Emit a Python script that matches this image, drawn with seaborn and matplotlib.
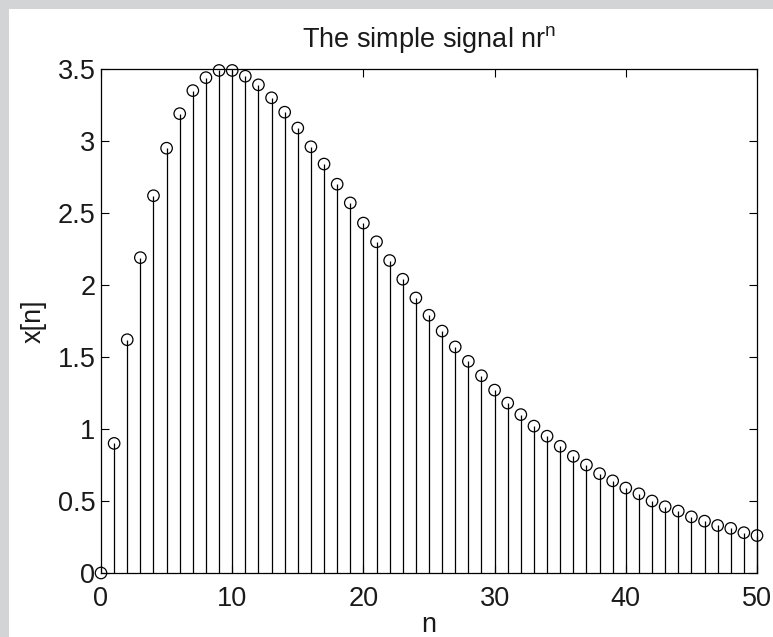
import numpy as np
import pandas as pd
import matplotlib
matplotlib.use("Agg")
import matplotlib.pyplot as plt
import seaborn as sns
from matplotlib.patches import Rectangle

# Sample index and signal values x[n]
n_values = list(range(0, 51))
x_values = [
    0.00, 0.90, 1.62, 2.19, 2.62, 2.95, 3.19, 3.35, 3.44, 3.49,
    3.49, 3.45, 3.39, 3.30, 3.20, 3.09, 2.96, 2.84, 2.70, 2.57,
    2.43, 2.30, 2.17, 2.04, 1.91, 1.79, 1.68, 1.57, 1.47, 1.37,
    1.27, 1.18, 1.10, 1.02, 0.95, 0.88, 0.81, 0.75, 0.69, 0.64,
    0.59, 0.55, 0.50, 0.46, 0.43, 0.39, 0.36, 0.33, 0.31, 0.28,
    0.26,
]
x_ticks = [0, 10, 20, 30, 40, 50]
y_ticks = [0, 0.5, 1, 1.5, 2, 2.5, 3, 3.5]
y_tick_labels = ["0", "0.5", "1", "1.5", "2", "2.5", "3", "3.5"]

df = pd.DataFrame({"n": n_values, "x": x_values})

sns.set_theme(style="white")
plt.rcParams["font.family"] = ["Liberation Sans", "DejaVu Sans"]
plt.rcParams["mathtext.fontset"] = "custom"
plt.rcParams["mathtext.rm"] = "Liberation Sans"

FS = 19.5
TXT = "#1a1a1a"

fig = plt.figure(figsize=(7.73, 6.37), dpi=100, facecolor="white")
# grey window frame along top and left edges
fig.patches.append(Rectangle((0, 1 - 9 / 637), 1, 9 / 637, transform=fig.transFigure,
                             facecolor="#d3d4d6", edgecolor="none", zorder=-10))
fig.patches.append(Rectangle((0, 0), 9 / 773, 1, transform=fig.transFigure,
                             facecolor="#d3d4d6", edgecolor="none", zorder=-10))

ax = fig.add_axes([101 / 773, 1 - 573 / 637, (757 - 101) / 773, (573 - 69) / 637])
ax.set_facecolor("white")

# stems
ax.vlines(df["n"], 0, df["x"], color="black", linewidth=0.9, zorder=2, clip_on=False)
# open circle heads
sns.scatterplot(data=df, x="n", y="x", ax=ax, marker="o", s=68,
                facecolors="none", edgecolors="black", linewidth=0.9, zorder=3,
                clip_on=False)

ax.set_xlim(0, 50)
ax.set_ylim(0, 3.5)
ax.set_xticks(x_ticks)
ax.set_xticklabels([str(t) for t in x_ticks])
ax.set_yticks(y_ticks)
ax.set_yticklabels(y_tick_labels)

for side in ["top", "right", "bottom", "left"]:
    ax.spines[side].set_visible(True)
    ax.spines[side].set_color("black")
    ax.spines[side].set_linewidth(0.9)

ax.tick_params(axis="both", which="major", direction="in", length=6, width=0.8,
               color="black", labelsize=FS, labelcolor=TXT,
               top=True, right=True, bottom=True, left=True)
ax.tick_params(axis="x", pad=9)
ax.tick_params(axis="y", pad=4)

ax.set_xlabel("n", fontsize=FS, color=TXT, labelpad=0)
ax.set_ylabel("x[n]", fontsize=FS, color=TXT, labelpad=8)
ax.set_title(r"The simple signal nr$^\mathregular{n}$", fontsize=FS, color=TXT, pad=16)

fig.savefig("out.png", dpi=100, facecolor=fig.get_facecolor())
